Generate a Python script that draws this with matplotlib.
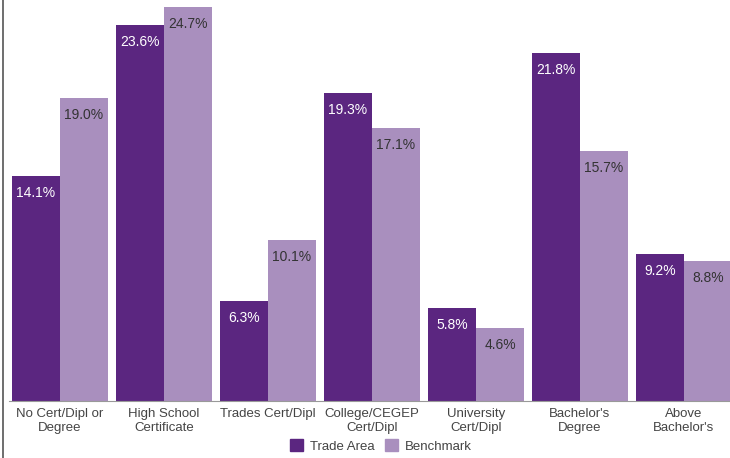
import matplotlib.pyplot as plt
import numpy as np
from matplotlib.lines import Line2D
from matplotlib.patches import Patch

plt.rcParams['font.family'] = ['Liberation Sans', 'DejaVu Sans']

categories = ["No Cert/Dipl or\nDegree", "High School\nCertificate", "Trades Cert/Dipl",
              "College/CEGEP\nCert/Dipl", "University\nCert/Dipl", "Bachelor's\nDegree",
              "Above\nBachelor's"]
trade_area = [14.1, 23.6, 6.3, 19.3, 5.8, 21.8, 9.2]
benchmark = [19.0, 24.7, 10.1, 17.1, 4.6, 15.7, 8.8]
series_names = ["Trade Area", "Benchmark"]

dark = "#5b2680"
light = "#a98fbe"

W, H = 730, 458
fig = plt.figure(figsize=(W / 100, H / 100), dpi=100)
ax = fig.add_axes([9 / W, (H - 401) / H, (W - 9) / W, 401 / H])

x = np.arange(len(categories))
bw = 48 / 104
b1 = ax.bar(x - bw / 2, trade_area, bw, color=dark, label=series_names[0])
b2 = ax.bar(x + bw / 2, benchmark, bw, color=light, label=series_names[1])

ax.set_xlim(-0.49, (W - 9 - 51) / 104)
ax.set_ylim(0, 25.14)

for bars, vals, col in [(b1, trade_area, "white"), (b2, benchmark, "#333333")]:
    for r, v in zip(bars, vals):
        ax.annotate(f"{v:.1f}%", (r.get_x() + r.get_width() / 2, v),
                    xytext=(0, -17), textcoords='offset pixels',
                    ha='center', va='center', fontsize=10, color=col)

for s in ['top', 'right', 'left']:
    ax.spines[s].set_visible(False)
ax.spines['bottom'].set_color('#999999')
ax.set_yticks([])
ax.set_xticks(x)
ax.set_xticklabels(categories, fontsize=9.5, color='#444444', linespacing=1.2)
ax.tick_params(axis='x', length=0, pad=5)

# border line at the left of the picture
fig.add_artist(Line2D([2.5 / W, 2.5 / W], [0, 1], color='#555555', lw=1.2))

handles = [Patch(color=dark), Patch(color=light)]
fig.legend(handles, series_names, loc='center', bbox_to_anchor=(381 / W, 1 - 446 / H),
           ncol=2, frameon=False, fontsize=9.5, handlelength=1.0, handleheight=1.0,
           handletextpad=0.5, columnspacing=0.8, labelcolor='#444444')

fig.savefig("out.png", dpi=100)
